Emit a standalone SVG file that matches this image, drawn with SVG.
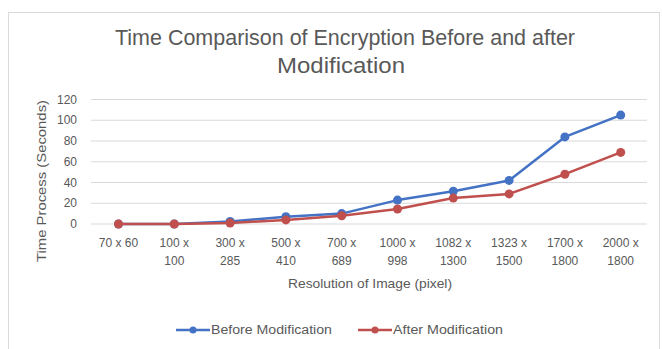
<svg xmlns="http://www.w3.org/2000/svg" width="662" height="349" viewBox="0 0 662 349">
<style>
text{font-family:"Liberation Sans",Arial,sans-serif;fill:#595959}
.t{font-size:21.5px;text-anchor:middle}
.ax{font-size:13.5px}
.lg{font-size:12.5px}
.yl{font-size:12px;text-anchor:end}
.xl{font-size:12px;text-anchor:middle}
.grid{stroke:#d9d9d9;stroke-width:1}
.sb{fill:none;stroke:#4472C4;stroke-width:2.5;stroke-linejoin:round}
.sr{fill:none;stroke:#C0504D;stroke-width:2.5;stroke-linejoin:round}
.mb{fill:#4472C4}
.mr{fill:#C0504D}
</style>
<rect x="0" y="0" width="662" height="349" fill="#ffffff"/>
<rect x="8.5" y="12.5" width="651" height="345" fill="#ffffff" stroke="#d9d9d9" stroke-width="1"/>
<g id="title">
<text class="t" x="345" y="45" textLength="460" lengthAdjust="spacingAndGlyphs">Time Comparison of Encryption Before and after</text>
<text class="t" x="341" y="73" textLength="128" lengthAdjust="spacingAndGlyphs">Modification</text>
</g>
<g id="gridlines">
<line class="grid" x1="91" y1="99.5" x2="647" y2="99.5"/>
<line class="grid" x1="91" y1="120.25" x2="647" y2="120.25"/>
<line class="grid" x1="91" y1="141" x2="647" y2="141"/>
<line class="grid" x1="91" y1="161.75" x2="647" y2="161.75"/>
<line class="grid" x1="91" y1="182.5" x2="647" y2="182.5"/>
<line class="grid" x1="91" y1="203.25" x2="647" y2="203.25"/>
<line class="grid" x1="91" y1="224" x2="647" y2="224"/>
</g>
<g id="y-axis">
<text class="ax" transform="translate(46,181) rotate(-90)" text-anchor="middle" textLength="162" lengthAdjust="spacingAndGlyphs">Time Process (Seconds)</text>
<text class="yl" x="77" y="103.5">120</text>
<text class="yl" x="77" y="124.25">100</text>
<text class="yl" x="77" y="145">80</text>
<text class="yl" x="77" y="165.75">60</text>
<text class="yl" x="77" y="186.5">40</text>
<text class="yl" x="77" y="207.25">20</text>
<text class="yl" x="77" y="228">0</text>
</g>
<g id="x-axis">
<text class="xl" x="118.5" y="247">70 x 60</text>
<text class="xl" x="174.3" y="247">100 x</text><text class="xl" x="174.3" y="265">100</text>
<text class="xl" x="230.1" y="247">300 x</text><text class="xl" x="230.1" y="265">285</text>
<text class="xl" x="285.9" y="247">500 x</text><text class="xl" x="285.9" y="265">410</text>
<text class="xl" x="341.7" y="247">700 x</text><text class="xl" x="341.7" y="265">689</text>
<text class="xl" x="397.5" y="247">1000 x</text><text class="xl" x="397.5" y="265">998</text>
<text class="xl" x="453.3" y="247">1082 x</text><text class="xl" x="453.3" y="265">1300</text>
<text class="xl" x="509.1" y="247">1323 x</text><text class="xl" x="509.1" y="265">1500</text>
<text class="xl" x="564.9" y="247">1700 x</text><text class="xl" x="564.9" y="265">1800</text>
<text class="xl" x="620.7" y="247">2000 x</text><text class="xl" x="620.7" y="265">1800</text>
<text class="ax" x="370" y="288" text-anchor="middle" textLength="164" lengthAdjust="spacingAndGlyphs">Resolution of Image (pixel)</text>
</g>
<g id="connectors">
<g id="series-before">
<polyline class="sb" points="118.5,224 174.3,224 230.1,221.4 285.9,216.7 341.7,213.6 397.5,200.1 453.3,191.3 509.1,180.4 564.9,136.9 620.7,115.1"/>
<circle class="mb" cx="118.5" cy="224" r="4.5"/><circle class="mb" cx="174.3" cy="224" r="4.5"/><circle class="mb" cx="230.1" cy="221.4" r="4.5"/><circle class="mb" cx="285.9" cy="216.7" r="4.5"/><circle class="mb" cx="341.7" cy="213.6" r="4.5"/><circle class="mb" cx="397.5" cy="200.1" r="4.5"/><circle class="mb" cx="453.3" cy="191.3" r="4.5"/><circle class="mb" cx="509.1" cy="180.4" r="4.5"/><circle class="mb" cx="564.9" cy="136.9" r="4.5"/><circle class="mb" cx="620.7" cy="115.1" r="4.5"/>
</g>
<g id="series-after">
<polyline class="sr" points="118.5,224 174.3,224 230.1,223 285.9,219.9 341.7,215.7 397.5,209 453.3,198.1 509.1,193.9 564.9,174.2 620.7,152.4"/>
<circle class="mr" cx="118.5" cy="224" r="4.5"/><circle class="mr" cx="174.3" cy="224" r="4.5"/><circle class="mr" cx="230.1" cy="223" r="4.5"/><circle class="mr" cx="285.9" cy="219.9" r="4.5"/><circle class="mr" cx="341.7" cy="215.7" r="4.5"/><circle class="mr" cx="397.5" cy="209" r="4.5"/><circle class="mr" cx="453.3" cy="198.1" r="4.5"/><circle class="mr" cx="509.1" cy="193.9" r="4.5"/><circle class="mr" cx="564.9" cy="174.2" r="4.5"/><circle class="mr" cx="620.7" cy="152.4" r="4.5"/>
</g>
</g>
<g id="legend">
<line x1="176" y1="330" x2="210" y2="330" stroke="#4472C4" stroke-width="2.5"/>
<circle class="mb" cx="193" cy="330" r="3.5"/>
<text class="lg" x="211" y="334" textLength="121" lengthAdjust="spacingAndGlyphs">Before Modification</text>
<line x1="358" y1="330" x2="392" y2="330" stroke="#C0504D" stroke-width="2.5"/>
<circle class="mr" cx="375" cy="330" r="3.5"/>
<text class="lg" x="393" y="334" textLength="110" lengthAdjust="spacingAndGlyphs">After Modification</text>
</g>
</svg>
